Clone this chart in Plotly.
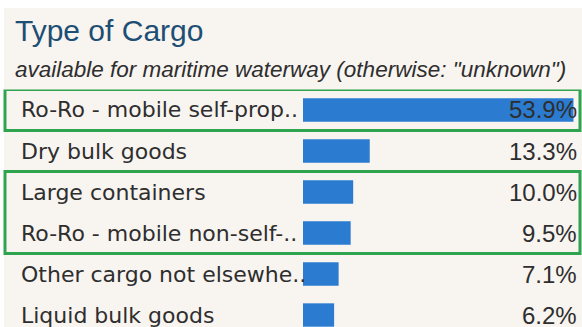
import plotly.graph_objects as go

# Cargo type shares (percent), top to bottom
categories = [
    "Ro-Ro - mobile self-prop..",
    "Dry bulk goods",
    "Large containers",
    "Ro-Ro - mobile non-self-..",
    "Other cargo not elsewhe..",
    "Liquid bulk goods",
]
shares = [53.9, 13.3, 10.0, 9.5, 7.1, 6.2]
value_labels = [f"{v:.1f}%" for v in shares]

# Rows outlined in green (first, last) index pairs
highlight_groups = [(0, 0), (2, 3)]

W, H = 582, 327
BG = "#f8f4f0"
BAR = "#2b7bd0"
TEXT = "#2e2e2e"
GREEN = "#2ea44f"

def px(x):
    return x / W

def py(y):
    return 1 - y / H

fig = go.Figure()
fig.add_trace(go.Bar(
    x=shares,
    y=list(range(len(categories))),
    orientation="h",
    marker=dict(color=BAR, line=dict(width=0)),
    hoverinfo="skip",
))

top_edge = 89.5
row_h = 41.0
y_bottom = (H - top_edge) / row_h - 0.5

fig.update_layout(
    width=W, height=H,
    margin=dict(l=0, r=0, t=0, b=0),
    paper_bgcolor="white",
    plot_bgcolor="rgba(0,0,0,0)",
    showlegend=False,
    bargap=0.43,
    xaxis=dict(domain=[px(303), 1], range=[0, 55.6], visible=False, fixedrange=True),
    yaxis=dict(domain=[0, py(top_edge)], range=[y_bottom, -0.5], visible=False, fixedrange=True),
)

shapes = [dict(type="rect", xref="paper", yref="paper", x0=px(4), x1=1.0, y0=0, y1=py(8),
               fillcolor=BG, line=dict(width=0), layer="below")]
for a, b in highlight_groups:
    shapes.append(dict(type="rect", xref="paper", yref="y", x0=px(5), x1=px(580),
                       y0=a - 0.5, y1=b + 0.5, fillcolor="rgba(0,0,0,0)",
                       line=dict(color=GREEN, width=3), layer="above"))
fig.update_layout(shapes=shapes)

annotations = [
    dict(text="Type of Cargo", xref="paper", yref="paper", x=px(13), y=py(30),
         xanchor="left", yanchor="middle", showarrow=False,
         font=dict(family="Liberation Sans, Arial", size=30, color="#1d4e73")),
    dict(text='<i>available for maritime waterway (otherwise: "unknown")</i>',
         xref="paper", yref="paper", x=px(13), y=py(69),
         xanchor="left", yanchor="middle", showarrow=False,
         font=dict(family="Liberation Sans, Arial", size=22.5, color=TEXT)),
]
for i, (cat, lab) in enumerate(zip(categories, value_labels)):
    annotations.append(dict(text=cat, xref="paper", yref="y", x=px(19), y=i,
                            xanchor="left", yanchor="middle", showarrow=False,
                            font=dict(family="DejaVu Sans", size=22, color=TEXT)))
    annotations.append(dict(text=lab, xref="paper", yref="y", x=px(579), y=i,
                            xanchor="right", yanchor="middle", showarrow=False,
                            font=dict(family="Liberation Sans, Arial", size=24, color=TEXT)))
fig.update_layout(annotations=annotations)

fig.write_html("out.html", config=dict(displayModeBar=False))
